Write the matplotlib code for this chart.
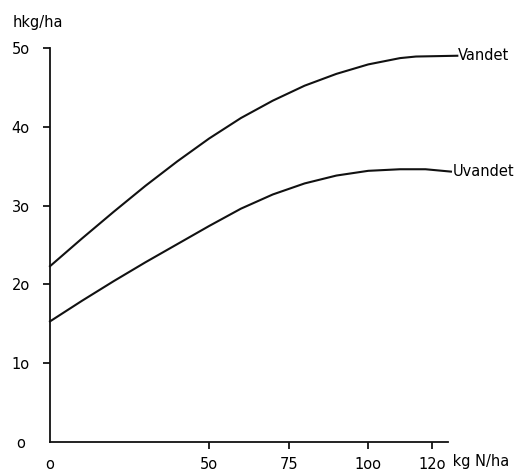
import matplotlib
matplotlib.use('Agg')
import matplotlib.pyplot as plt

# N-gødning (kg N/ha) og udbytte (hkg/ha)
n_vandet = [0, 10, 20, 30, 40, 50, 60, 70, 80, 90, 100, 110, 115, 128]
vandet = [22.3, 25.8, 29.2, 32.5, 35.6, 38.5, 41.1, 43.3, 45.2, 46.7, 47.9, 48.7, 48.9, 49.0]

n_uvandet = [0, 10, 20, 30, 40, 50, 60, 70, 80, 90, 100, 110, 118, 126]
uvandet = [15.3, 17.9, 20.4, 22.8, 25.1, 27.4, 29.6, 31.4, 32.8, 33.8, 34.4, 34.6, 34.6, 34.3]

x_ticks = [0, 50, 75, 100, 120]
x_labels = ['o', '5o', '75', '1oo', '12o']
y_ticks = [0, 10, 20, 30, 40, 50]
y_labels = ['o', '1o', '2o', '3o', '4o', '5o']

plt.rcParams['font.family'] = 'DejaVu Sans'

fig = plt.figure(figsize=(5.22, 4.72), dpi=100)
ax = fig.add_axes([0.0958, 0.0636, 0.762, 0.835])

ax.plot(n_vandet, vandet, color='#111111', lw=1.5, clip_on=False)
ax.plot(n_uvandet, uvandet, color='#111111', lw=1.5, clip_on=False)

# Kurvenavne ved enden af linjerne
ax.text(n_vandet[-1] + 0.3, vandet[-1], 'Vandet', ha='left', va='center', fontsize=10.5)
ax.text(n_uvandet[-1] + 0.5, uvandet[-1], 'Uvandet', ha='left', va='center', fontsize=10.5)

ax.set_xlim(0, 125)
ax.set_ylim(0, 50)

for side in ['top', 'right']:
    ax.spines[side].set_visible(False)
for side in ['left', 'bottom']:
    ax.spines[side].set_linewidth(1.3)
    ax.spines[side].set_color('#111111')

ax.set_xticks(x_ticks)
ax.set_xticklabels(x_labels)
ax.set_yticks(y_ticks)
ax.set_yticklabels(y_labels)
ax.tick_params(axis='x', direction='out', length=5, width=1.2, pad=6, labelsize=10.5)
ax.tick_params(axis='y', direction='out', length=5, width=1.2, pad=16, labelsize=10.5)
for label in ax.get_yticklabels():
    label.set_horizontalalignment('center')
ax.xaxis.get_major_ticks()[0].tick1line.set_visible(False)
ax.yaxis.get_major_ticks()[0].tick1line.set_visible(False)

# Akseenheder
fig.text(13 / 522, 1 - 23 / 472, 'hkg/ha', ha='left', va='center', fontsize=10.5)
ax.text(1.0, -0.05, ' kg N/ha', transform=ax.transAxes, ha='left', va='center', fontsize=10.5)

fig.savefig('out.png', dpi=100)
